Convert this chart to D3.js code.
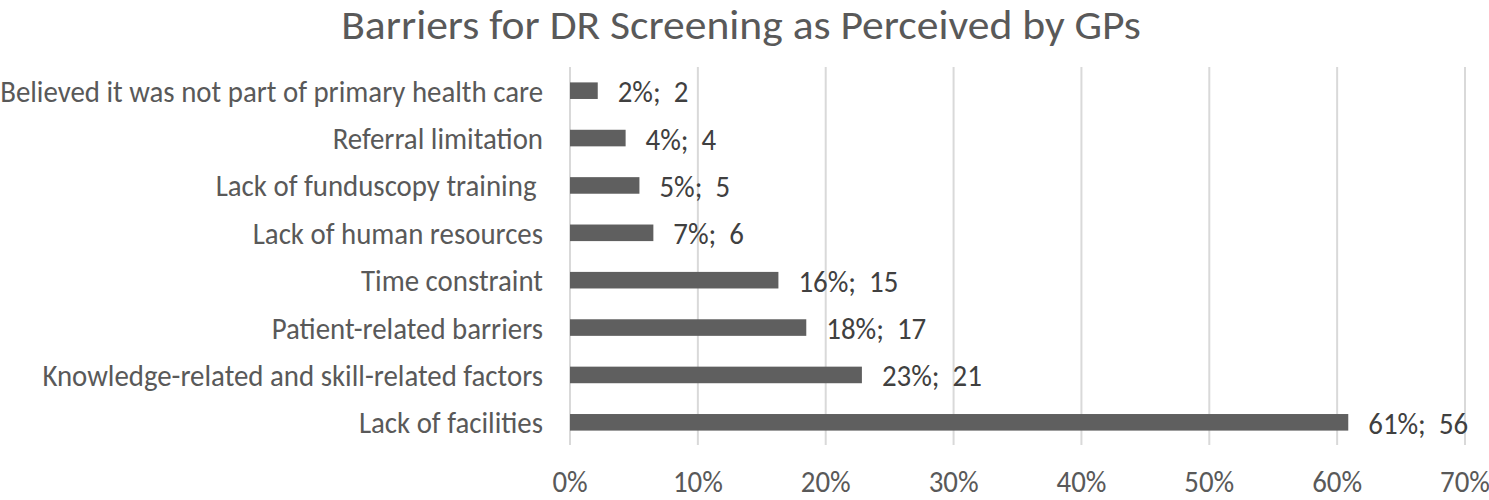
<!DOCTYPE html>
<html>
<head>
<meta charset="utf-8">
<script src="https://cdn.jsdelivr.net/npm/d3@7"></script>
<style>
  html, body { margin: 0; padding: 0; background: #ffffff; }
  svg { display: block; }
  text { white-space: pre; }
</style>
</head>
<body>
<svg id="chart" width="1489" height="500"></svg>
<script>
// ---- data ----
const title = "Barriers for DR Screening as Perceived by GPs";
const categories = [
  "Believed it was not part of primary health care",
  "Referral limitation",
  "Lack of funduscopy training ",
  "Lack of human resources",
  "Time constraint",
  "Patient-related barriers",
  "Knowledge-related and skill-related factors",
  "Lack of facilities"
];
const percents = [2.17, 4.35, 5.43, 6.52, 16.30, 18.48, 22.83, 60.87];
const counts = [2, 4, 5, 6, 15, 17, 21, 56];
const xTicks = [0, 10, 20, 30, 40, 50, 60, 70];

// ---- layout ----
const plotLeft = 570, plotRight = 1465, plotTop = 67, plotBottom = 446;
const fontFamily = "Carlito, 'Open Sans', 'Noto Sans', sans-serif";
const bodySize = 30, titleSize = 41;

const svg = d3.select("#chart");

// measure to compress glyphs horizontally (matches the narrow look of the reference)
function measure(str, size) {
  const t = svg.append("text").attr("font-family", fontFamily).attr("font-size", size).text(str);
  const w = t.node().getComputedTextLength();
  t.remove();
  return w;
}
const sxBody = 543 / measure(categories[0], bodySize);
const sxTitle = 800 / measure(title, titleSize);

const x = d3.scaleLinear().domain([0, 70]).range([plotLeft, plotRight]);
const y = d3.scaleBand().domain(categories).range([plotTop, plotBottom])
  .paddingInner(0.65).paddingOuter(0.325);

// gridlines
svg.append("g").selectAll("line").data(xTicks).join("line")
  .attr("x1", d => x(d)).attr("x2", d => x(d))
  .attr("y1", plotTop).attr("y2", plotBottom - 1)
  .attr("stroke", "#d9d9d9").attr("stroke-width", 2);

// bars
svg.append("g").selectAll("rect").data(categories).join("rect")
  .attr("x", x(0))
  .attr("y", d => y(d))
  .attr("width", (d, i) => x(percents[i]) - x(0))
  .attr("height", y.bandwidth())
  .attr("fill", "#5f5f5f");

// category labels
svg.append("g").selectAll("text").data(categories).join("text")
  .attr("transform", d => `translate(${543},${y(d) + y.bandwidth() / 2 + 11}) scale(${sxBody},1)`)
  .attr("text-anchor", "end")
  .attr("font-family", fontFamily).attr("font-size", bodySize)
  .attr("fill", "#595959")
  .text(d => d);

// data labels
const fmt = d3.format(".0%");
svg.append("g").selectAll("text").data(categories).join("text")
  .attr("transform", (d, i) => `translate(${x(percents[i]) + 20},${y(d) + y.bandwidth() / 2 + 11.5}) scale(${sxBody},1)`)
  .attr("font-family", fontFamily).attr("font-size", bodySize)
  .attr("fill", "#404040")
  .text((d, i) => fmt(percents[i] / 100) + ";  " + counts[i]);

// x tick labels
svg.append("g").selectAll("text").data(xTicks).join("text")
  .attr("transform", d => `translate(${x(d)},${492}) scale(${sxBody},1)`)
  .attr("text-anchor", "middle")
  .attr("font-family", fontFamily).attr("font-size", bodySize)
  .attr("fill", "#595959")
  .text(d => d + "%");

// title
svg.append("text")
  .attr("transform", `translate(${741},${39}) scale(${sxTitle},1)`)
  .attr("text-anchor", "middle")
  .attr("font-family", fontFamily).attr("font-size", titleSize)
  .attr("fill", "#595959")
  .text(title);
</script>
</body>
</html>
